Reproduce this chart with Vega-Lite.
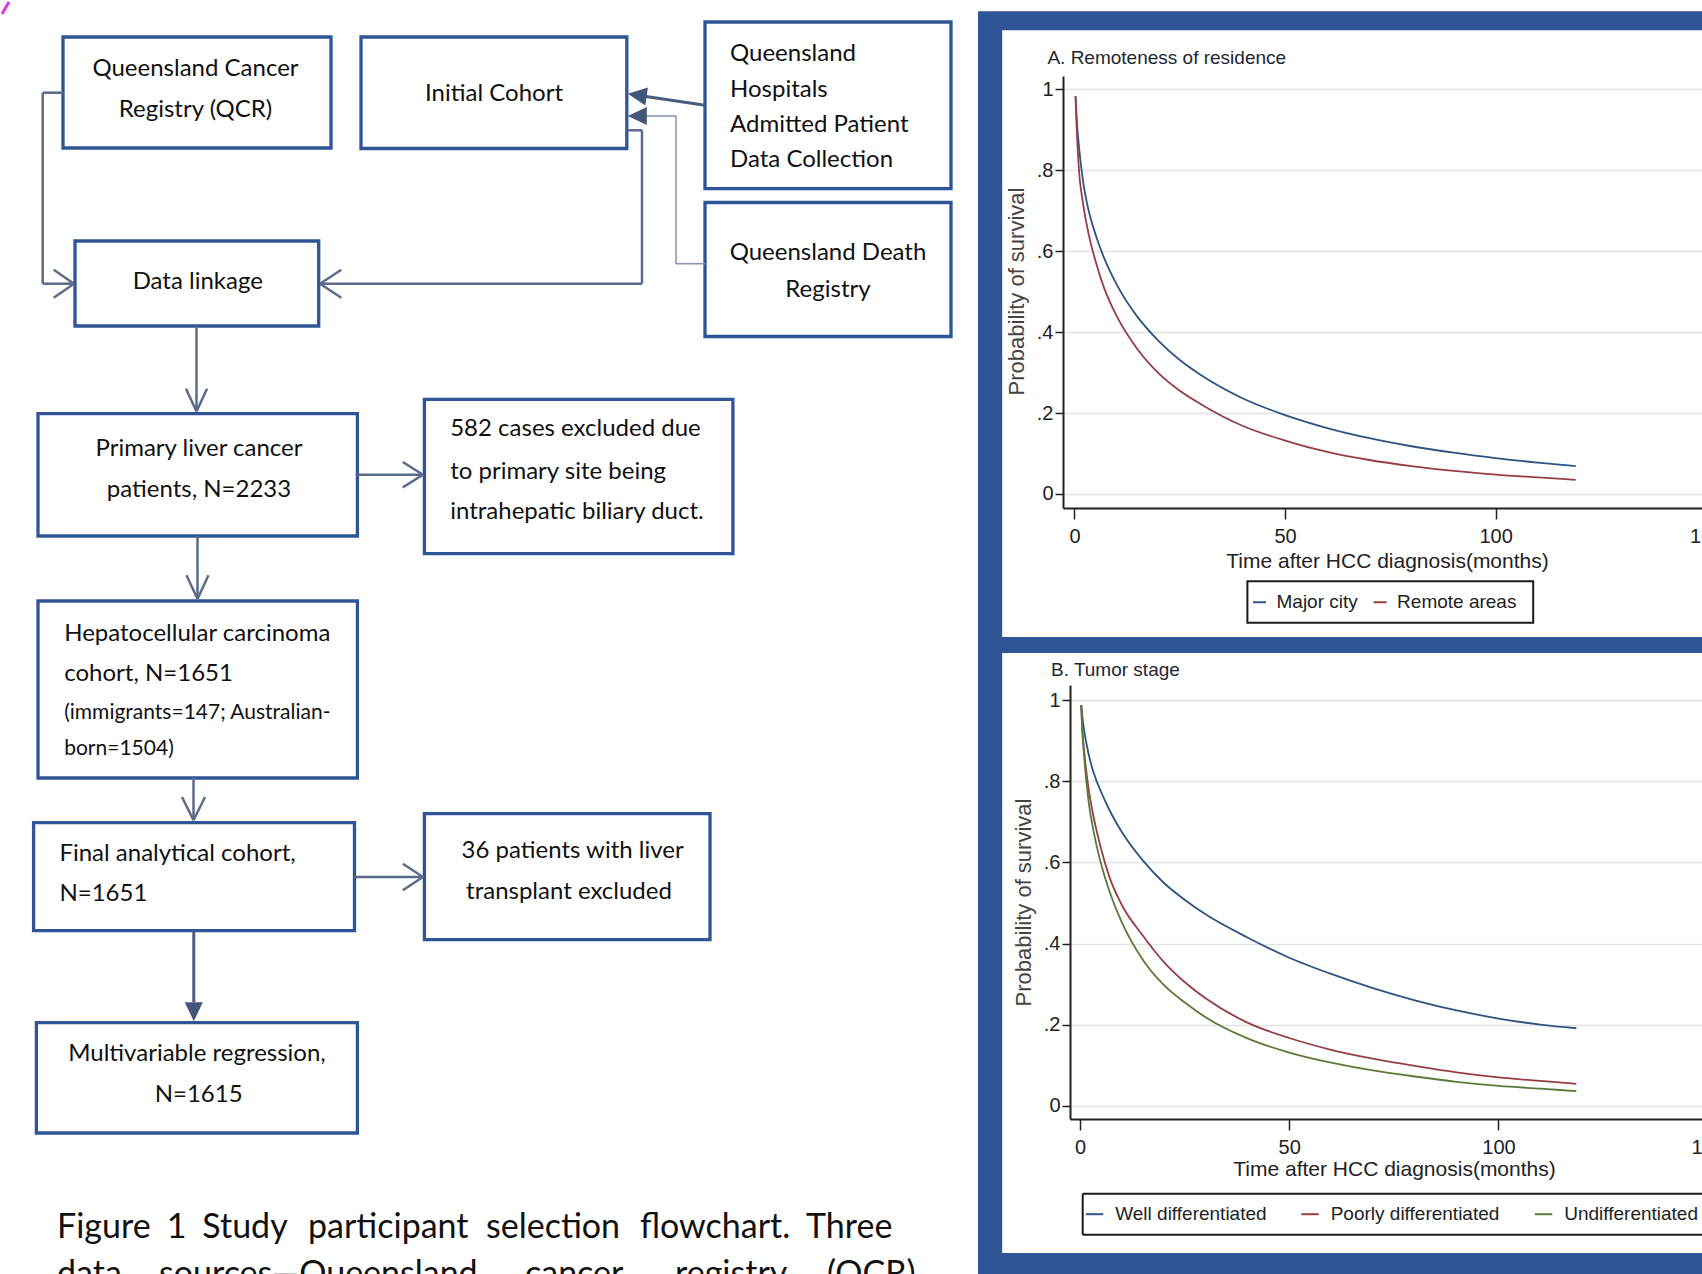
{
  "$schema": "https://vega.github.io/schema/vega-lite/v6.json",
  "padding": 0,
  "background": "white",
  "autosize": {"type": "pad"},
  "config": {"view": {"stroke": null}},
  "datasets": {
    "bgWhite": [{"x1": 0, "y1": 0, "x2": 976, "y2": 1274}],
    "frameBlue": [{"x1": 976, "y1": 9.3, "x2": 1702, "y2": 1274}],
    "panels": [{"x1": 1000.2, "y1": 28.3, "x2": 1702, "y2": 635}, {"x1": 1000.2, "y1": 651, "x2": 1702, "y2": 1251}],
    "legendBoxA": [{"x1": 1245.4, "y1": 579.3, "x2": 1531.2, "y2": 620.7}],
    "legendEdgesB": [
      {"x1": 1080.7, "y1": 1191.7, "x2": 1702, "y2": 1191.7},
      {"x1": 1080.7, "y1": 1232.7, "x2": 1702, "y2": 1232.7},
      {"x1": 1080.7, "y1": 1191.7, "x2": 1080.7, "y2": 1232.7}
    ],
    "boxes": [
      {"x1": 61, "y1": 35, "x2": 329, "y2": 146},
      {"x1": 359, "y1": 35, "x2": 624.8, "y2": 146.5},
      {"x1": 703, "y1": 20, "x2": 949, "y2": 186.7},
      {"x1": 703, "y1": 200.5, "x2": 949, "y2": 334.5},
      {"x1": 73, "y1": 239, "x2": 316.7, "y2": 324},
      {"x1": 36, "y1": 411.7, "x2": 355.4, "y2": 534},
      {"x1": 422.4, "y1": 397.3, "x2": 730.9, "y2": 551.7},
      {"x1": 36, "y1": 599, "x2": 355.4, "y2": 776},
      {"x1": 31.6, "y1": 820.7, "x2": 352.5, "y2": 928.7},
      {"x1": 422.4, "y1": 811.7, "x2": 708, "y2": 937.7},
      {"x1": 34.4, "y1": 1020.7, "x2": 355.4, "y2": 1131}
    ],
    "links": [
      {"x1": 40.7, "y1": 90.7, "x2": 61, "y2": 90.7},
      {"x1": 40.7, "y1": 90.7, "x2": 40.7, "y2": 281.7},
      {"x1": 40.7, "y1": 281.7, "x2": 72, "y2": 281.7},
      {"x1": 624.8, "y1": 128.3, "x2": 640, "y2": 128.3},
      {"x1": 640, "y1": 128.3, "x2": 640, "y2": 281.7},
      {"x1": 318, "y1": 281.7, "x2": 640, "y2": 281.7},
      {"x1": 194.5, "y1": 324, "x2": 194.5, "y2": 409},
      {"x1": 355.4, "y1": 472.7, "x2": 420, "y2": 472.7},
      {"x1": 195.5, "y1": 534, "x2": 195.5, "y2": 597},
      {"x1": 191.5, "y1": 776, "x2": 191.5, "y2": 818},
      {"x1": 352.5, "y1": 875, "x2": 420, "y2": 875},
      {"x1": 51.7, "y1": 267.7, "x2": 72, "y2": 281.7},
      {"x1": 51.7, "y1": 295.7, "x2": 72, "y2": 281.7},
      {"x1": 339.3, "y1": 267.7, "x2": 318, "y2": 281.7},
      {"x1": 339.3, "y1": 295.7, "x2": 318, "y2": 281.7},
      {"x1": 184, "y1": 386.7, "x2": 194.5, "y2": 409.5},
      {"x1": 205, "y1": 386.7, "x2": 194.5, "y2": 409.5},
      {"x1": 400.8, "y1": 460, "x2": 421, "y2": 472.7},
      {"x1": 400.8, "y1": 485.4, "x2": 421, "y2": 472.7},
      {"x1": 184.5, "y1": 573.3, "x2": 195.5, "y2": 597},
      {"x1": 206.5, "y1": 573.3, "x2": 195.5, "y2": 597},
      {"x1": 180, "y1": 795, "x2": 191.5, "y2": 818.3},
      {"x1": 203, "y1": 795, "x2": 191.5, "y2": 818.3},
      {"x1": 400.8, "y1": 861.7, "x2": 421, "y2": 875},
      {"x1": 400.8, "y1": 888.3, "x2": 421, "y2": 875}
    ],
    "thinLinks": [
      {"x1": 674, "y1": 261.7, "x2": 703, "y2": 261.7},
      {"x1": 674, "y1": 114, "x2": 674, "y2": 261.7},
      {"x1": 644, "y1": 114, "x2": 674, "y2": 114}
    ],
    "darkLinks": [
      {"x1": 644, "y1": 94.4, "x2": 703, "y2": 103.3},
      {"x1": 191.8, "y1": 928.7, "x2": 191.8, "y2": 1000}
    ],
    "headsLeft": [
      {"x1": 635.2, "y1": 93.1, "rot": 8.3},
      {"x1": 635.3, "y1": 114, "rot": 0}
    ],
    "headsDown": [{"x1": 191.8, "y1": 1009.8}],
    "txtCenter": [
      {"x1": 193.5, "y1": 74, "label": "Queensland Cancer"},
      {"x1": 193.5, "y1": 115, "label": "Registry (QCR)"},
      {"x1": 492, "y1": 99.3, "label": "Initial Cohort"},
      {"x1": 826, "y1": 258.3, "label": "Queensland Death"},
      {"x1": 826, "y1": 295, "label": "Registry"},
      {"x1": 195.8, "y1": 286.7, "label": "Data linkage"},
      {"x1": 197, "y1": 454, "label": "Primary liver cancer"},
      {"x1": 197, "y1": 495, "label": "patients, N=2233"},
      {"x1": 570.6, "y1": 856, "label": "36 patients with liver"},
      {"x1": 567, "y1": 897.3, "label": "transplant excluded"},
      {"x1": 195, "y1": 1059.3, "label": "Multivariable regression,"},
      {"x1": 196.6, "y1": 1100, "label": "N=1615"}
    ],
    "txtLeft": [
      {"x1": 728, "y1": 59.3, "label": "Queensland"},
      {"x1": 728, "y1": 95, "label": "Hospitals"},
      {"x1": 728, "y1": 130, "label": "Admitted Patient"},
      {"x1": 728, "y1": 165, "label": "Data Collection"},
      {"x1": 448.2, "y1": 434, "label": "582 cases excluded due"},
      {"x1": 448.2, "y1": 476.7, "label": "to primary site being"},
      {"x1": 448.2, "y1": 516.7, "label": "intrahepatic biliary duct."},
      {"x1": 62.2, "y1": 639.3, "label": "Hepatocellular carcinoma"},
      {"x1": 62.2, "y1": 679.3, "label": "cohort, N=1651"},
      {"x1": 57.4, "y1": 859.3, "label": "Final analytical cohort,"},
      {"x1": 57.4, "y1": 899.3, "label": "N=1651"}
    ],
    "txtSmall": [
      {"x1": 62.2, "y1": 717.3, "label": "(immigrants=147; Australian-"},
      {"x1": 62.2, "y1": 752.7, "label": "born=1504)"}
    ],
    "cap1": [
      {"x1": 55, "y1": 1236, "label": "Figure"},
      {"x1": 164.7, "y1": 1236, "label": "1"},
      {"x1": 200.3, "y1": 1236, "label": "Study"},
      {"x1": 306, "y1": 1236, "label": "participant"},
      {"x1": 484, "y1": 1236, "label": "selection"},
      {"x1": 638, "y1": 1236, "label": "flowchart."},
      {"x1": 804, "y1": 1236, "label": "Three"}
    ],
    "cap2": [
      {"x1": 55, "y1": 1283, "label": "data"},
      {"x1": 157, "y1": 1283, "label": "sources—Queensland"},
      {"x1": 523, "y1": 1283, "label": "cancer"},
      {"x1": 673, "y1": 1283, "label": "registry"},
      {"x1": 825, "y1": 1283, "label": "(QCR),"}
    ],
    "artifact": [{"x1": 0, "y1": 12, "x2": 7, "y2": 0}],
    "survA": [
      {"group": "Major city", "t": 0.25, "S": 0.983},
      {"group": "Major city", "t": 0.5, "S": 0.93},
      {"group": "Major city", "t": 1, "S": 0.865},
      {"group": "Major city", "t": 2, "S": 0.775},
      {"group": "Major city", "t": 3, "S": 0.717},
      {"group": "Major city", "t": 5, "S": 0.641},
      {"group": "Major city", "t": 7, "S": 0.584},
      {"group": "Major city", "t": 10, "S": 0.518},
      {"group": "Major city", "t": 15, "S": 0.437},
      {"group": "Major city", "t": 20, "S": 0.378},
      {"group": "Major city", "t": 25, "S": 0.331},
      {"group": "Major city", "t": 30, "S": 0.294},
      {"group": "Major city", "t": 40, "S": 0.236},
      {"group": "Major city", "t": 50, "S": 0.195},
      {"group": "Major city", "t": 60, "S": 0.163},
      {"group": "Major city", "t": 70, "S": 0.138},
      {"group": "Major city", "t": 80, "S": 0.118},
      {"group": "Major city", "t": 90, "S": 0.102},
      {"group": "Major city", "t": 100, "S": 0.0887},
      {"group": "Major city", "t": 110, "S": 0.0775},
      {"group": "Major city", "t": 119, "S": 0.069},
      {"group": "Remote areas", "t": 0.25, "S": 0.983},
      {"group": "Remote areas", "t": 0.5, "S": 0.91},
      {"group": "Remote areas", "t": 1, "S": 0.81},
      {"group": "Remote areas", "t": 2, "S": 0.72},
      {"group": "Remote areas", "t": 3, "S": 0.66},
      {"group": "Remote areas", "t": 5, "S": 0.575},
      {"group": "Remote areas", "t": 7, "S": 0.51},
      {"group": "Remote areas", "t": 10, "S": 0.44},
      {"group": "Remote areas", "t": 15, "S": 0.357},
      {"group": "Remote areas", "t": 20, "S": 0.298},
      {"group": "Remote areas", "t": 25, "S": 0.255},
      {"group": "Remote areas", "t": 30, "S": 0.222},
      {"group": "Remote areas", "t": 40, "S": 0.168},
      {"group": "Remote areas", "t": 50, "S": 0.132},
      {"group": "Remote areas", "t": 60, "S": 0.104},
      {"group": "Remote areas", "t": 70, "S": 0.084},
      {"group": "Remote areas", "t": 80, "S": 0.069},
      {"group": "Remote areas", "t": 90, "S": 0.057},
      {"group": "Remote areas", "t": 100, "S": 0.048},
      {"group": "Remote areas", "t": 110, "S": 0.041},
      {"group": "Remote areas", "t": 119, "S": 0.035}
    ],
    "survB": [
      {"group": "Well differentiated", "t": 0.3, "S": 0.988},
      {"group": "Well differentiated", "t": 0.5, "S": 0.965},
      {"group": "Well differentiated", "t": 1, "S": 0.925},
      {"group": "Well differentiated", "t": 2, "S": 0.87},
      {"group": "Well differentiated", "t": 3, "S": 0.83},
      {"group": "Well differentiated", "t": 4, "S": 0.8},
      {"group": "Well differentiated", "t": 5, "S": 0.775},
      {"group": "Well differentiated", "t": 7, "S": 0.73},
      {"group": "Well differentiated", "t": 10, "S": 0.675},
      {"group": "Well differentiated", "t": 15, "S": 0.605},
      {"group": "Well differentiated", "t": 20, "S": 0.55},
      {"group": "Well differentiated", "t": 25, "S": 0.508},
      {"group": "Well differentiated", "t": 30, "S": 0.472},
      {"group": "Well differentiated", "t": 40, "S": 0.415},
      {"group": "Well differentiated", "t": 50, "S": 0.365},
      {"group": "Well differentiated", "t": 60, "S": 0.325},
      {"group": "Well differentiated", "t": 70, "S": 0.29},
      {"group": "Well differentiated", "t": 80, "S": 0.26},
      {"group": "Well differentiated", "t": 90, "S": 0.235},
      {"group": "Well differentiated", "t": 100, "S": 0.215},
      {"group": "Well differentiated", "t": 110, "S": 0.2},
      {"group": "Well differentiated", "t": 118.6, "S": 0.191},
      {"group": "Poorly differentiated", "t": 0.3, "S": 0.988},
      {"group": "Poorly differentiated", "t": 0.5, "S": 0.94},
      {"group": "Poorly differentiated", "t": 1, "S": 0.875},
      {"group": "Poorly differentiated", "t": 2, "S": 0.785},
      {"group": "Poorly differentiated", "t": 3, "S": 0.725},
      {"group": "Poorly differentiated", "t": 5, "S": 0.635},
      {"group": "Poorly differentiated", "t": 7, "S": 0.565},
      {"group": "Poorly differentiated", "t": 10, "S": 0.495},
      {"group": "Poorly differentiated", "t": 15, "S": 0.42},
      {"group": "Poorly differentiated", "t": 20, "S": 0.355},
      {"group": "Poorly differentiated", "t": 25, "S": 0.305},
      {"group": "Poorly differentiated", "t": 30, "S": 0.265},
      {"group": "Poorly differentiated", "t": 40, "S": 0.205},
      {"group": "Poorly differentiated", "t": 50, "S": 0.167},
      {"group": "Poorly differentiated", "t": 60, "S": 0.138},
      {"group": "Poorly differentiated", "t": 70, "S": 0.116},
      {"group": "Poorly differentiated", "t": 80, "S": 0.098},
      {"group": "Poorly differentiated", "t": 90, "S": 0.082},
      {"group": "Poorly differentiated", "t": 100, "S": 0.07},
      {"group": "Poorly differentiated", "t": 110, "S": 0.061},
      {"group": "Poorly differentiated", "t": 118.6, "S": 0.054},
      {"group": "Undifferentiated", "t": 0.3, "S": 0.988},
      {"group": "Undifferentiated", "t": 0.5, "S": 0.935},
      {"group": "Undifferentiated", "t": 1, "S": 0.86},
      {"group": "Undifferentiated", "t": 2, "S": 0.755},
      {"group": "Undifferentiated", "t": 3, "S": 0.69},
      {"group": "Undifferentiated", "t": 5, "S": 0.598},
      {"group": "Undifferentiated", "t": 7, "S": 0.53},
      {"group": "Undifferentiated", "t": 10, "S": 0.452},
      {"group": "Undifferentiated", "t": 15, "S": 0.36},
      {"group": "Undifferentiated", "t": 20, "S": 0.298},
      {"group": "Undifferentiated", "t": 25, "S": 0.255},
      {"group": "Undifferentiated", "t": 30, "S": 0.218},
      {"group": "Undifferentiated", "t": 40, "S": 0.166},
      {"group": "Undifferentiated", "t": 50, "S": 0.131},
      {"group": "Undifferentiated", "t": 60, "S": 0.106},
      {"group": "Undifferentiated", "t": 70, "S": 0.087},
      {"group": "Undifferentiated", "t": 80, "S": 0.072},
      {"group": "Undifferentiated", "t": 90, "S": 0.059},
      {"group": "Undifferentiated", "t": 100, "S": 0.049},
      {"group": "Undifferentiated", "t": 110, "S": 0.042},
      {"group": "Undifferentiated", "t": 118.6, "S": 0.036}
    ]
  },
  "spacing": 0,
  "bounds": "flush",
  "resolve": {"scale": {"x": "independent", "y": "independent", "color": "independent"}},
  "hconcat": [
    {
      "width": 1061,
      "height": 1200,
      "encoding": {
        "x": {"field": "x1", "type": "quantitative", "scale": {"domain": [0, 1061], "nice": false, "zero": false}, "axis": null},
        "y": {"field": "y1", "type": "quantitative", "scale": {"domain": [74, 1274], "nice": false, "zero": false, "reverse": true}, "axis": null}
      },
      "layer": [
        {"data": {"name": "bgWhite"}, "mark": {"type": "rect", "color": "white"}, "encoding": {"x2": {"field": "x2"}, "y2": {"field": "y2"}}},
        {"data": {"name": "frameBlue"}, "mark": {"type": "rect", "color": "#2F5597"}, "encoding": {"x2": {"field": "x2"}, "y2": {"field": "y2"}}},
        {"data": {"name": "panels"}, "mark": {"type": "rect", "color": "white"}, "encoding": {"x2": {"field": "x2"}, "y2": {"field": "y2"}}},
        {"data": {"name": "legendBoxA"}, "mark": {"type": "rect", "fill": null, "filled": false, "stroke": "#1a1a1a", "strokeWidth": 2}, "encoding": {"x2": {"field": "x2"}, "y2": {"field": "y2"}}},
        {"data": {"name": "legendEdgesB"}, "mark": {"type": "rule", "color": "#1a1a1a", "strokeWidth": 2}, "encoding": {"x2": {"field": "x2"}, "y2": {"field": "y2"}}},
        {"data": {"name": "boxes"}, "mark": {"type": "rect", "fill": "white", "stroke": "#2F5597", "strokeWidth": 3.3}, "encoding": {"x2": {"field": "x2"}, "y2": {"field": "y2"}}},
        {"data": {"name": "links"}, "mark": {"type": "rule", "color": "#5B6C8A", "strokeWidth": 2.5}, "encoding": {"x2": {"field": "x2"}, "y2": {"field": "y2"}}},
        {"data": {"name": "thinLinks"}, "mark": {"type": "rule", "color": "#8A98B2", "strokeWidth": 1.6}, "encoding": {"x2": {"field": "x2"}, "y2": {"field": "y2"}}},
        {"data": {"name": "darkLinks"}, "mark": {"type": "rule", "color": "#4A5B7C", "strokeWidth": 3}, "encoding": {"x2": {"field": "x2"}, "y2": {"field": "y2"}}},
        {"data": {"name": "headsLeft"}, "mark": {"type": "point", "shape": "M -1 0 L 1 -0.95 L 1 0.95 Z", "size": 361, "filled": true, "color": "#44557A", "opacity": 1}, "encoding": {"angle": {"field": "rot", "type": "quantitative", "scale": null}}},
        {"data": {"name": "headsDown"}, "mark": {"type": "point", "shape": "M 0 1 L -0.95 -1 L 0.95 -1 Z", "size": 361, "filled": true, "color": "#44557A", "opacity": 1}},
        {"data": {"name": "txtCenter"}, "mark": {"type": "text", "font": "Lato", "fontSize": 24, "align": "center", "baseline": "alphabetic", "color": "#111111"}, "encoding": {"text": {"field": "label"}}},
        {"data": {"name": "txtLeft"}, "mark": {"type": "text", "font": "Lato", "fontSize": 24, "align": "left", "baseline": "alphabetic", "color": "#111111"}, "encoding": {"text": {"field": "label"}}},
        {"data": {"name": "txtSmall"}, "mark": {"type": "text", "font": "Lato", "fontSize": 21, "align": "left", "baseline": "alphabetic", "color": "#111111"}, "encoding": {"text": {"field": "label"}}},
        {"data": {"name": "cap1"}, "mark": {"type": "text", "font": "Lato", "fontSize": 34, "align": "left", "baseline": "alphabetic", "color": "#111111"}, "encoding": {"text": {"field": "label"}}},
        {"data": {"name": "cap2"}, "mark": {"type": "text", "font": "Lato", "fontSize": 34, "align": "left", "baseline": "alphabetic", "color": "#111111", "clip": true}, "encoding": {"text": {"field": "label"}}},
        {"data": {"name": "artifact"}, "mark": {"type": "rule", "color": "#E035E0", "strokeWidth": 3}, "encoding": {"x2": {"field": "x2"}, "y2": {"field": "y2"}}}
      ]
    },
    {
      "spacing": 177,
      "bounds": "flush",
      "resolve": {"scale": {"x": "independent", "y": "independent", "color": "independent"}},
      "vconcat": [
        {
          "width": 644,
          "height": 432,
          "title": {"text": "A. Remoteness of residence", "anchor": "start", "frame": "group", "font": "Liberation Sans", "fontSize": 19, "fontWeight": "normal", "color": "#1f2633", "dx": -15.6, "dy": 14.5, "offset": 7.3, "baseline": "alphabetic"},
          "data": {"name": "survA"},
          "mark": {"type": "line", "strokeWidth": 1.8, "interpolate": "monotone"},
          "encoding": {
            "x": {
              "field": "t", "type": "quantitative",
              "scale": {"domain": [-2.73, 150.17], "nice": false, "zero": false},
              "axis": {"values": [0, 50, 100, 150], "grid": false, "title": "Time after HCC diagnosis(months)", "tickSize": 11, "tickWidth": 1.5, "tickColor": "#222222", "domainColor": "#222222", "domainWidth": 2, "labelFont": "Liberation Sans", "labelFontSize": 20, "labelColor": "#222222", "labelPadding": 7, "labelFlush": false, "labelOverlap": false, "titleFont": "Liberation Sans", "titleFontSize": 21, "titleFontWeight": "normal", "titleColor": "#222222", "titleX": 324, "titleY": 59.3, "titleBaseline": "alphabetic", "titleAlign": "center"}
            },
            "y": {
              "field": "S", "type": "quantitative",
              "scale": {"domain": [-0.0346, 1.0329], "nice": false, "zero": false},
              "axis": {"values": [0, 0.2, 0.4, 0.6, 0.8, 1], "labelExpr": "replace(format(datum.value, '.1~f'), '0.', '.')", "grid": true, "gridColor": "#E2E2E2", "gridWidth": 1.5, "tickSize": 8, "tickWidth": 1.5, "tickColor": "#222222", "domainColor": "#222222", "domainWidth": 2, "labelFont": "Liberation Sans", "labelFontSize": 20, "labelColor": "#222222", "labelPadding": 2, "labelOverlap": false, "title": "Probability of survival", "titleFont": "Liberation Sans", "titleFontSize": 22, "titleFontWeight": "normal", "titleColor": "#444444", "titleAngle": -90, "titleX": -46.3, "titleY": 215, "titleBaseline": "middle", "titleAlign": "center"}
            },
            "color": {
              "field": "group", "type": "nominal",
              "scale": {"domain": ["Major city", "Remote areas"], "range": ["#2E5385", "#973E45"]},
              "legend": {"orient": "none", "legendX": 187, "legendY": 516.5, "direction": "horizontal", "title": null, "symbolType": "stroke", "symbolSize": 170, "symbolStrokeWidth": 2, "labelFont": "Liberation Sans", "labelFontSize": 19, "labelColor": "#222222", "labelOffset": 7.5, "columnPadding": 10.6, "padding": 0, "labelLimit": 0}
            }
          }
        },
        {
          "spacing": 0,
          "bounds": "flush",
          "resolve": {"scale": {"x": "independent", "y": "independent", "color": "independent"}},
          "hconcat": [
            {"width": 7, "height": 434, "data": {"values": []}, "mark": "rect"},
            {
              "width": 641,
              "height": 434,
              "title": {"text": "B. Tumor stage", "anchor": "start", "frame": "group", "font": "Liberation Sans", "fontSize": 19, "fontWeight": "normal", "color": "#1f2633", "dx": -19, "dy": 15, "offset": 5.5, "baseline": "alphabetic"},
              "data": {"name": "survB"},
              "mark": {"type": "line", "strokeWidth": 1.8, "interpolate": "monotone"},
              "encoding": {
                "x": {
                  "field": "t", "type": "quantitative",
                  "scale": {"domain": [-2.39, 150.78], "nice": false, "zero": false},
                  "axis": {"values": [0, 50, 100, 150], "grid": false, "title": "Time after HCC diagnosis(months)", "tickSize": 11, "tickWidth": 1.5, "tickColor": "#222222", "domainColor": "#222222", "domainWidth": 2, "labelFont": "Liberation Sans", "labelFontSize": 20, "labelColor": "#222222", "labelPadding": 7, "labelFlush": false, "labelOverlap": false, "titleFont": "Liberation Sans", "titleFontSize": 21, "titleFontWeight": "normal", "titleColor": "#222222", "titleX": 324, "titleY": 56.7, "titleBaseline": "alphabetic", "titleAlign": "center"}
                },
                "y": {
                  "field": "S", "type": "quantitative",
                  "scale": {"domain": [-0.0328, 1.0377], "nice": false, "zero": false},
                  "axis": {"values": [0, 0.2, 0.4, 0.6, 0.8, 1], "labelExpr": "replace(format(datum.value, '.1~f'), '0.', '.')", "grid": true, "gridColor": "#E2E2E2", "gridWidth": 1.5, "tickSize": 8, "tickWidth": 1.5, "tickColor": "#222222", "domainColor": "#222222", "domainWidth": 2, "labelFont": "Liberation Sans", "labelFontSize": 20, "labelColor": "#222222", "labelPadding": 2, "labelOverlap": false, "title": "Probability of survival", "titleFont": "Liberation Sans", "titleFontSize": 22, "titleFontWeight": "normal", "titleColor": "#444444", "titleAngle": -90, "titleX": -46.4, "titleY": 217, "titleBaseline": "middle", "titleAlign": "center"}
                },
                "color": {
                  "field": "group", "type": "nominal",
                  "scale": {"domain": ["Well differentiated", "Poorly differentiated", "Undifferentiated"], "range": ["#2E5385", "#973E45", "#5A7A38"]},
                  "legend": {"orient": "none", "legendX": 14.6, "legendY": 519.2, "direction": "horizontal", "title": null, "symbolType": "stroke", "symbolSize": 300, "symbolStrokeWidth": 2, "labelFont": "Liberation Sans", "labelFontSize": 19, "labelColor": "#222222", "labelOffset": 10.6, "columnPadding": 30.5, "padding": 0, "labelLimit": 0}
                }
              }
            }
          ]
        }
      ]
    }
  ]
}
